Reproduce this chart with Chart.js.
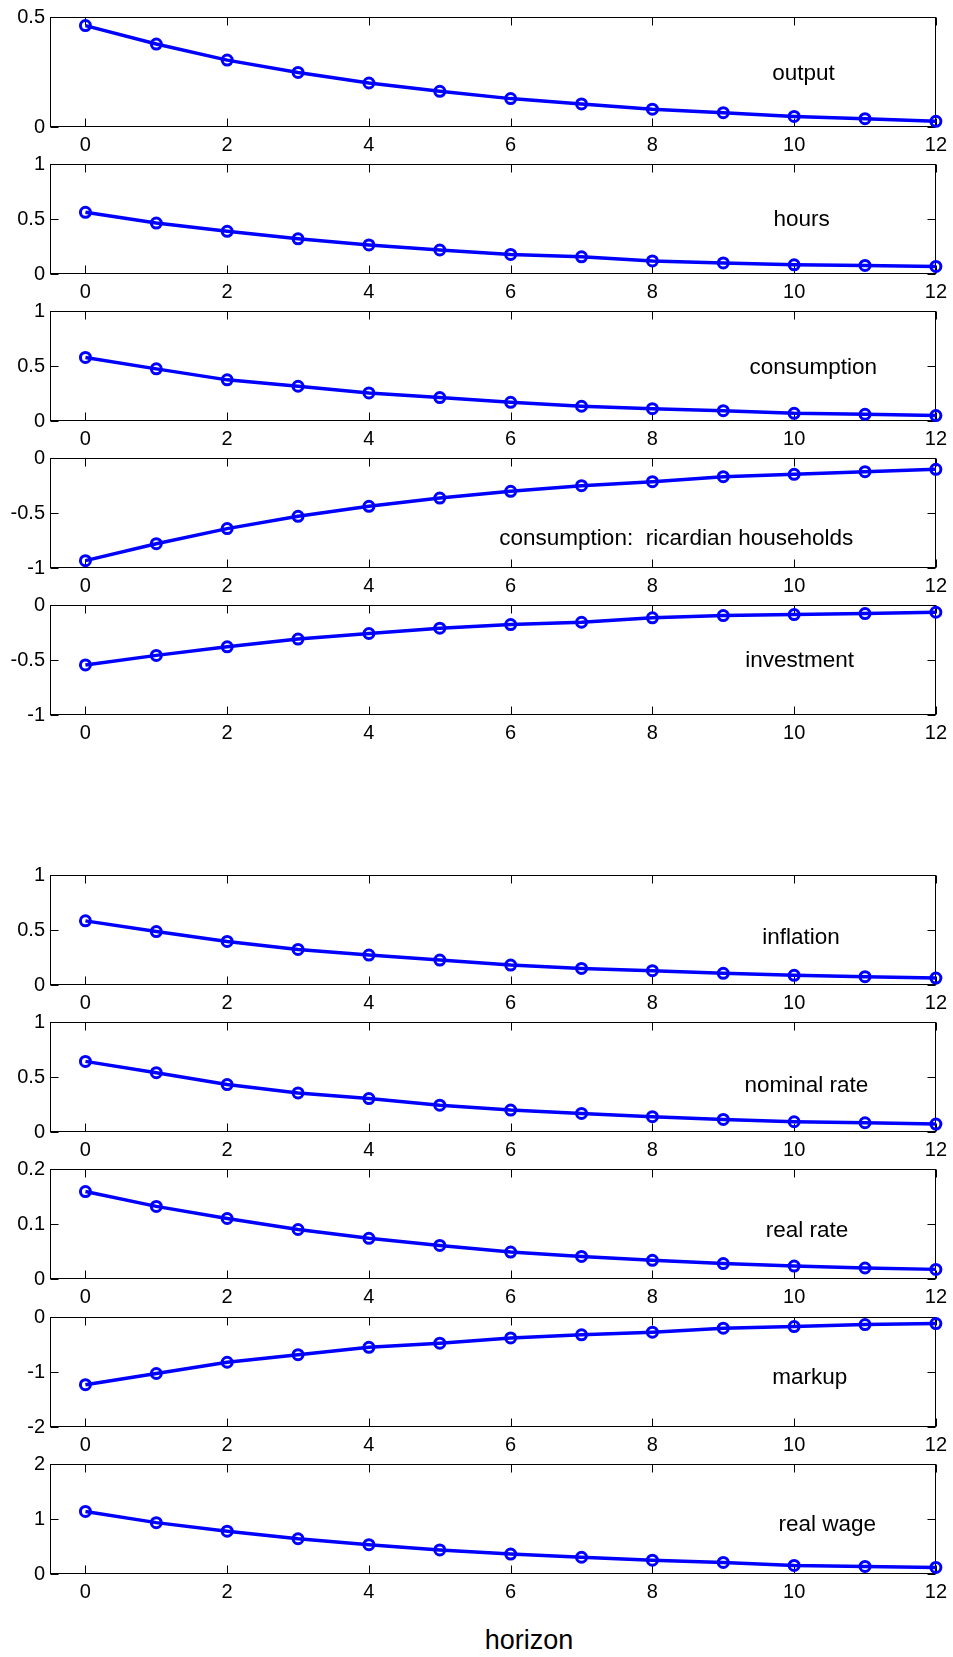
<!DOCTYPE html>
<html lang="en">
<head>
    <meta charset="UTF-8">
    <title>Impulse responses</title>
    <script src="https://cdn.jsdelivr.net/npm/chart.js"></script>
    <style>
        body {
            margin: 0;
            background: #fff;
            font-family: "Liberation Sans", Arial, sans-serif;
        }
        #wrap {
            position: relative;
            width: 953px;
            height: 1657px;
        }
        #wrap canvas {
            position: absolute;
            left: 0;
        }
        #horizon {
            position: absolute;
            left: 0;
            width: 1058px;
            top: 1625px;
            text-align: center;
            font-size: 27px;
            color: #000;
        }
    </style>
</head>
<body>
<div id="wrap">
    <div id="horizon">horizon</div>
</div>

<script>
    // horizon (quarters)
    const horizon = [0, 1, 2, 3, 4, 5, 6, 7, 8, 9, 10, 11, 12];
    const xTicks = [0, 2, 4, 6, 8, 10, 12];

    // responses
    const output      = [0.461, 0.377, 0.304, 0.248, 0.200, 0.162, 0.129, 0.105, 0.081, 0.065, 0.048, 0.038, 0.026];
    const hours       = [0.561, 0.463, 0.388, 0.320, 0.264, 0.218, 0.178, 0.156, 0.119, 0.101, 0.083, 0.078, 0.069];
    const consumption = [0.578, 0.474, 0.374, 0.316, 0.255, 0.213, 0.170, 0.134, 0.112, 0.094, 0.070, 0.061, 0.049];
    const ricardian   = [-0.933, -0.779, -0.642, -0.530, -0.439, -0.364, -0.303, -0.252, -0.215, -0.170, -0.148, -0.124, -0.103];
    const investment  = [-0.545, -0.458, -0.380, -0.310, -0.259, -0.211, -0.178, -0.157, -0.117, -0.096, -0.087, -0.078, -0.066];
    const inflation   = [0.583, 0.486, 0.396, 0.323, 0.272, 0.227, 0.181, 0.151, 0.130, 0.106, 0.088, 0.076, 0.063];
    const nominalRate = [0.642, 0.539, 0.431, 0.355, 0.304, 0.244, 0.199, 0.169, 0.139, 0.114, 0.093, 0.084, 0.072];
    const realRate    = [0.159, 0.132, 0.110, 0.090, 0.074, 0.061, 0.049, 0.041, 0.034, 0.028, 0.0235, 0.020, 0.0175];
    const markup      = [-1.231, -1.027, -0.823, -0.685, -0.552, -0.476, -0.380, -0.324, -0.276, -0.204, -0.174, -0.138, -0.120];
    const realWage    = [1.138, 0.934, 0.778, 0.641, 0.533, 0.438, 0.362, 0.305, 0.251, 0.210, 0.156, 0.138, 0.120];

    // y tick labels per panel
    const ticksOutput      = [0, 0.5];
    const ticksUnit        = [0, 0.5, 1];
    const ticksNegUnit     = [-1, -0.5, 0];
    const ticksRealRate    = [0, 0.1, 0.2];
    const ticksMarkup      = [-2, -1, 0];
    const ticksRealWage    = [0, 1, 2];

    const panels = [
        { name: 'output', values: output, ticks: ticksOutput, top: 16, lx: 9.69, ly: 0.24 },
        { name: 'hours', values: hours, ticks: ticksUnit, top: 163, lx: 9.71, ly: 0.49 },
        { name: 'consumption', values: consumption, ticks: ticksUnit, top: 310, lx: 9.37, ly: 0.48 },
        { name: 'consumption:  ricardian households', values: ricardian, ticks: ticksNegUnit, top: 457, lx: 5.84, ly: -0.73 },
        { name: 'investment', values: investment, ticks: ticksNegUnit, top: 604, lx: 9.31, ly: -0.51 },
        { name: 'inflation', values: inflation, ticks: ticksUnit, top: 874, lx: 9.55, ly: 0.43 },
        { name: 'nominal rate', values: nominalRate, ticks: ticksUnit, top: 1021, lx: 9.30, ly: 0.42 },
        { name: 'real rate', values: realRate, ticks: ticksRealRate, top: 1168, lx: 9.60, ly: 0.087 },
        { name: 'markup', values: markup, ticks: ticksMarkup, top: 1316, lx: 9.69, ly: -1.11 },
        { name: 'real wage', values: realWage, ticks: ticksRealWage, top: 1463, lx: 9.78, ly: 0.89 }
    ];

    const FONT = '"Liberation Sans", Arial, sans-serif';
    const PAD_TOP = 16, AREA_H = 111, X_AXIS_H = 38;

    // matlab-like box with inward ticks + panel caption
    const boxPlugin = {
        id: 'box',
        beforeDatasetsDraw(chart) {
            const { ctx, chartArea: a, scales } = chart;
            const L = Math.round(a.left) + 0.5, R = Math.round(a.right) - 0.5;
            const T = Math.round(a.top) + 0.5, B = Math.round(a.bottom) - 0.5;
            ctx.save();
            ctx.strokeStyle = '#000';
            ctx.lineWidth = 1;
            ctx.strokeRect(L, T, R - L, B - T);
            const len = 8;
            ctx.beginPath();
            scales.x.ticks.forEach(t => {
                const px = Math.round(scales.x.getPixelForValue(t.value)) + 0.5;
                ctx.moveTo(px, B); ctx.lineTo(px, B - len);
                ctx.moveTo(px, T); ctx.lineTo(px, T + len);
            });
            scales.y.ticks.forEach(t => {
                const py = Math.round(scales.y.getPixelForValue(t.value)) + 0.5;
                ctx.moveTo(L, py); ctx.lineTo(L + len, py);
                ctx.moveTo(R, py); ctx.lineTo(R - len, py);
            });
            ctx.stroke();
            ctx.restore();
        },
        afterDraw(chart, args, opts) {
            const { ctx, scales } = chart;
            ctx.save();
            ctx.fillStyle = '#000';
            ctx.font = '22.5px ' + FONT;
            ctx.textAlign = 'left';
            ctx.textBaseline = 'middle';
            ctx.fillText(opts.text, scales.x.getPixelForValue(opts.x), scales.y.getPixelForValue(opts.y));
            ctx.restore();
        }
    };

    const wrap = document.getElementById('wrap');

    panels.forEach(p => {
        const canvas = document.createElement('canvas');
        canvas.width = 953;
        canvas.height = PAD_TOP + AREA_H + X_AXIS_H;
        canvas.style.top = (p.top - PAD_TOP) + 'px';
        wrap.appendChild(canvas);

        new Chart(canvas.getContext('2d'), {
            type: 'line',
            data: {
                datasets: [{
                    data: horizon.map((h, i) => ({ x: h, y: p.values[i] })),
                    borderColor: '#0000ff',
                    borderWidth: 3.5,
                    pointRadius: 5,
                    pointBorderWidth: 3,
                    pointBorderColor: '#0000ff',
                    pointBackgroundColor: 'rgba(0,0,0,0)',
                    tension: 0,
                    clip: false
                }]
            },
            options: {
                responsive: false,
                animation: false,
                devicePixelRatio: 1,
                layout: { padding: { top: PAD_TOP, right: 16, left: 0, bottom: 0 } },
                plugins: {
                    legend: { display: false },
                    tooltip: { enabled: false },
                    box: { text: p.name, x: p.lx, y: p.ly }
                },
                scales: {
                    x: {
                        type: 'linear',
                        min: -0.5,
                        max: 12,
                        grid: { display: false, drawTicks: false },
                        border: { display: false },
                        afterBuildTicks: s => { s.ticks = xTicks.map(v => ({ value: v })); },
                        afterFit: s => { s.height = X_AXIS_H; },
                        ticks: {
                            autoSkip: false,
                            maxRotation: 0,
                            padding: 6,
                            color: '#000',
                            font: { family: FONT, size: 20 },
                            callback: v => String(v)
                        }
                    },
                    y: {
                        min: p.ticks[0],
                        max: p.ticks[p.ticks.length - 1],
                        grid: { display: false, drawTicks: false },
                        border: { display: false },
                        afterBuildTicks: s => { s.ticks = p.ticks.map(v => ({ value: v })); },
                        afterFit: s => { s.width = 50; },
                        ticks: {
                            padding: 5,
                            color: '#000',
                            font: { family: FONT, size: 20 },
                            callback: v => String(v)
                        }
                    }
                }
            },
            plugins: [boxPlugin]
        });
    });
</script>
</body>
</html>
